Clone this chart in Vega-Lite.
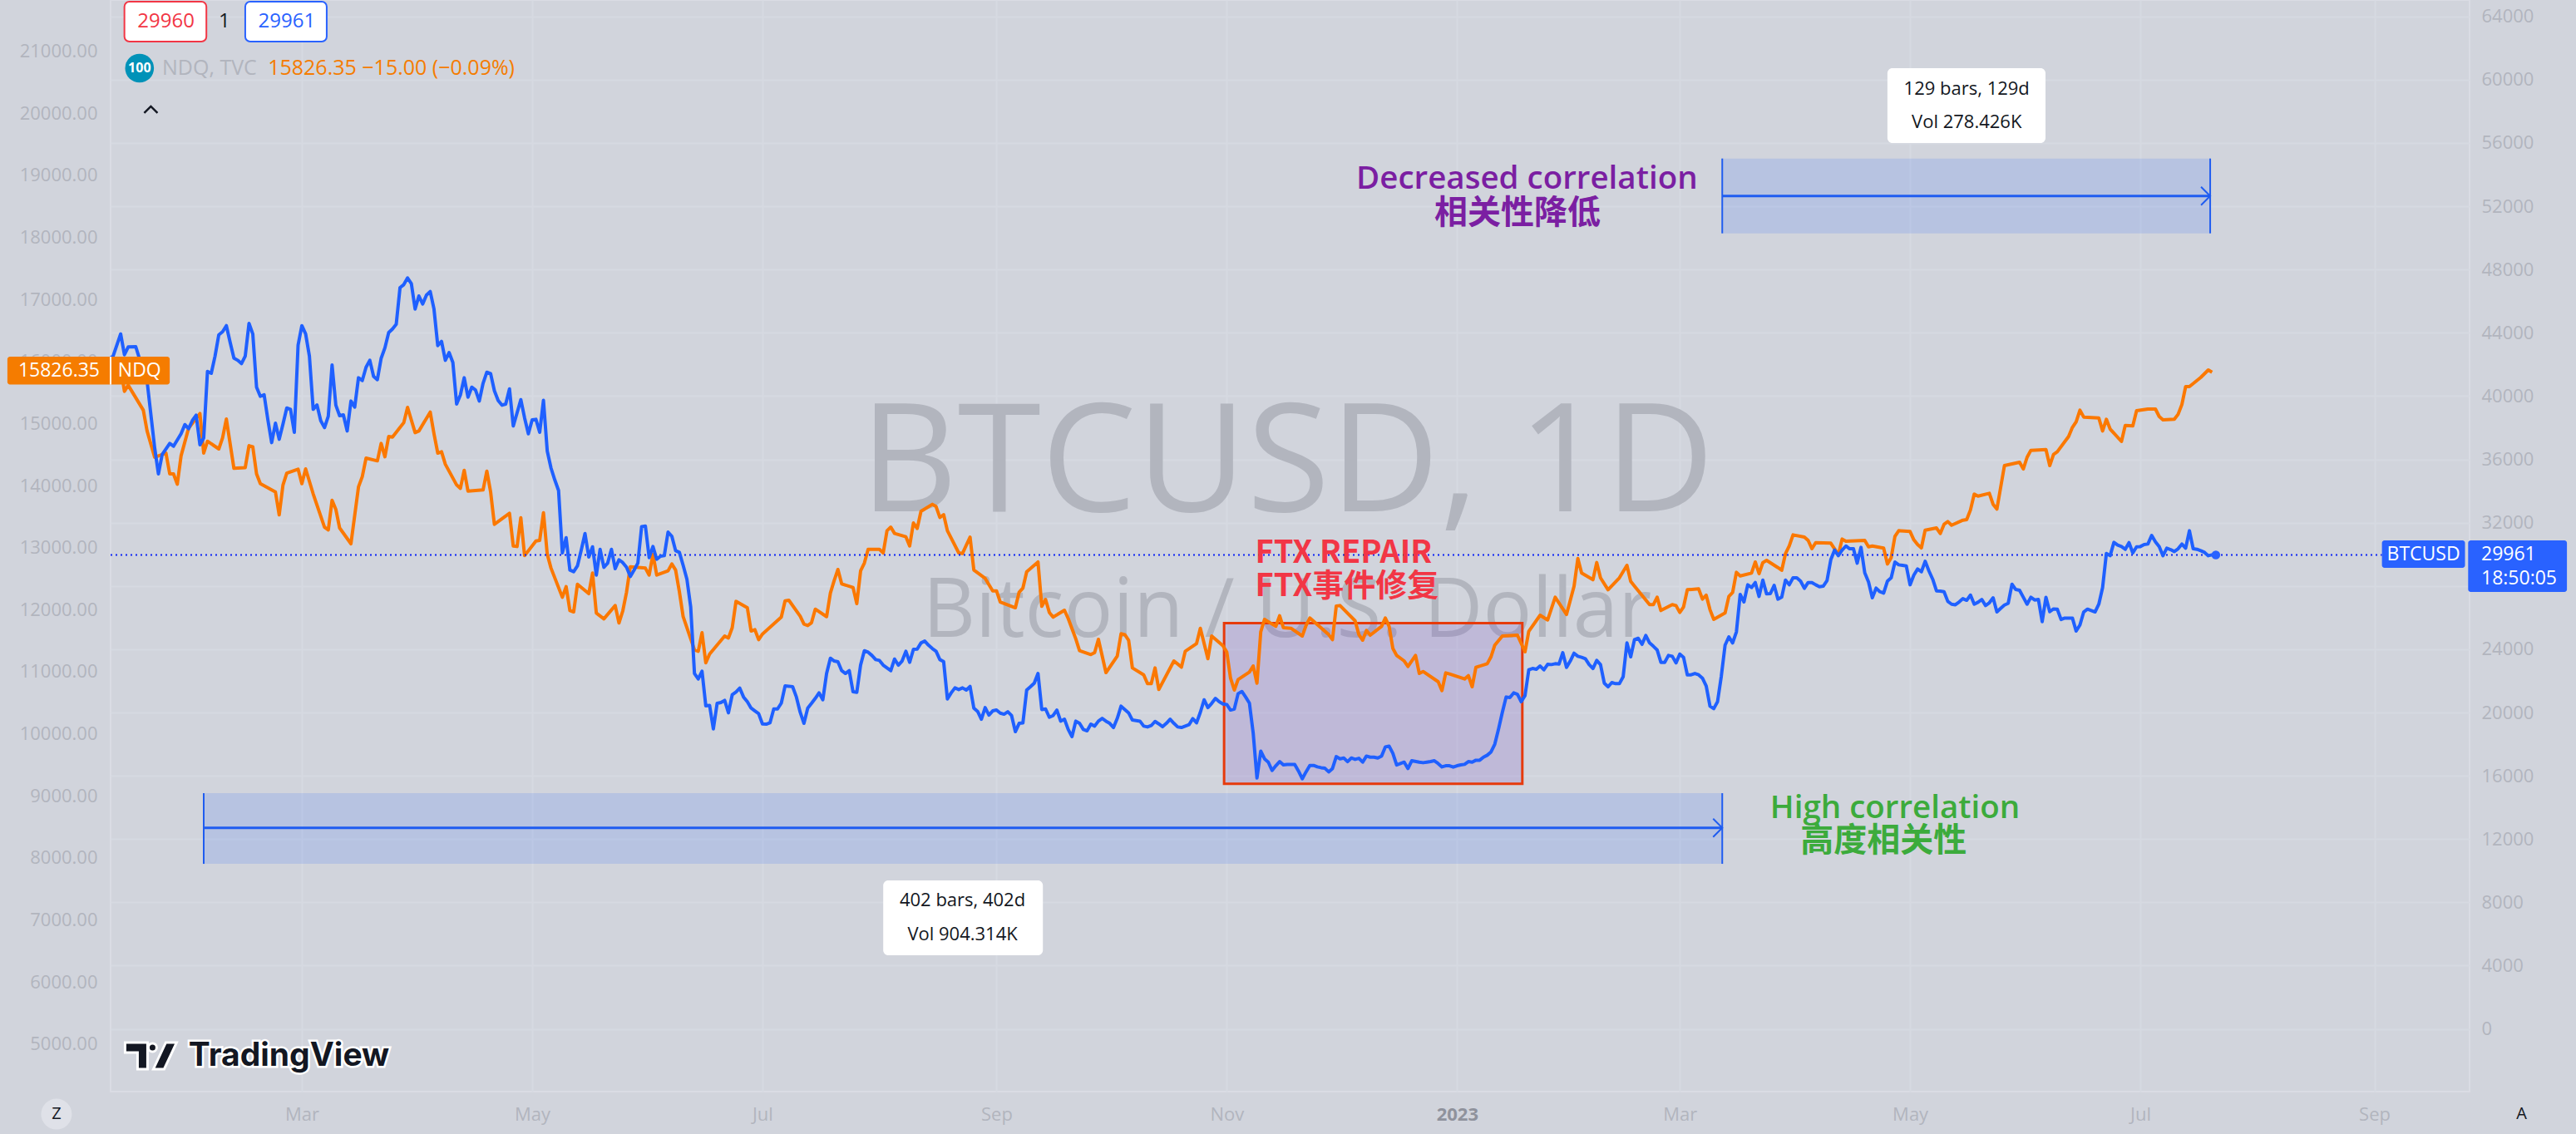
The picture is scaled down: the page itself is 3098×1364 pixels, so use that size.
{
"$schema":"https://vega.github.io/schema/vega-lite/v6.json",
"width":2837,"height":1313,
"autosize":{"type":"none"},
"padding":{"left":133,"top":0,"right":128,"bottom":51},
"background":"#d1d4dc",
"config":{"view":{"stroke":"#dadce4","strokeWidth":2},"axis":{"labelFont":"Open Sans","labelFontSize":22,"labelColor":"#b2b5be","domain":false,"ticks":false,"title":null,"labelOverlap":false,"labelBound":false,"labelFlush":false,"gridColor":"#d6d9e1","gridWidth":2},"text":{"font":"Open Sans"}},
"datasets":{
"btc":[
{"date":"2022-01-09","price":42351},{"date":"2022-01-10","price":42526},{"date":"2022-01-12","price":43927},{"date":"2022-01-13","price":42613},{"date":"2022-01-14","price":43104},{"date":"2022-01-16","price":43121},{"date":"2022-01-17","price":42351},{"date":"2022-01-19","price":40949},{"date":"2022-01-21","price":36744},{"date":"2022-01-22","price":35080},{"date":"2022-01-23","price":36306},{"date":"2022-01-25","price":37007},{"date":"2022-01-26","price":36832},{"date":"2022-01-28","price":37620},{"date":"2022-01-29","price":38198},{"date":"2022-01-30","price":37936},{"date":"2022-01-31","price":38461},{"date":"2022-02-01","price":38794},{"date":"2022-02-02","price":36919},{"date":"2022-02-03","price":37357},{"date":"2022-02-04","price":41562},{"date":"2022-02-05","price":41440},{"date":"2022-02-06","price":42526},{"date":"2022-02-07","price":43875},{"date":"2022-02-08","price":44068},{"date":"2022-02-09","price":44453},{"date":"2022-02-10","price":43402},{"date":"2022-02-11","price":42403},{"date":"2022-02-12","price":42263},{"date":"2022-02-13","price":42053},{"date":"2022-02-14","price":42526},{"date":"2022-02-15","price":44593},{"date":"2022-02-16","price":43927},{"date":"2022-02-17","price":40563},{"date":"2022-02-18","price":39985},{"date":"2022-02-19","price":40090},{"date":"2022-02-20","price":38496},{"date":"2022-02-21","price":37060},{"date":"2022-02-22","price":38286},{"date":"2022-02-23","price":37270},{"date":"2022-02-24","price":38233},{"date":"2022-02-25","price":39250},{"date":"2022-02-26","price":39162},{"date":"2022-02-27","price":37708},{"date":"2022-02-28","price":43227},
{"date":"2022-03-01","price":44453},{"date":"2022-03-02","price":43927},{"date":"2022-03-03","price":42526},{"date":"2022-03-04","price":39162},{"date":"2022-03-05","price":39442},{"date":"2022-03-06","price":38444},{"date":"2022-03-07","price":38006},{"date":"2022-03-08","price":38724},{"date":"2022-03-09","price":41965},{"date":"2022-03-10","price":39425},{"date":"2022-03-11","price":38759},{"date":"2022-03-12","price":38811},{"date":"2022-03-13","price":37795},{"date":"2022-03-14","price":39687},{"date":"2022-03-15","price":39302},{"date":"2022-03-16","price":41159},{"date":"2022-03-17","price":40984},{"date":"2022-03-18","price":41825},{"date":"2022-03-19","price":42263},{"date":"2022-03-20","price":41247},{"date":"2022-03-21","price":41037},{"date":"2022-03-22","price":42386},{"date":"2022-03-23","price":43051},{"date":"2022-03-24","price":44015},{"date":"2022-03-25","price":44243},{"date":"2022-03-26","price":44541},{"date":"2022-03-27","price":46853},{"date":"2022-03-28","price":47046},{"date":"2022-03-29","price":47466},{"date":"2022-03-30","price":47116},{"date":"2022-03-31","price":45504},
{"date":"2022-04-01","price":46328},{"date":"2022-04-02","price":45820},{"date":"2022-04-03","price":46380},{"date":"2022-04-04","price":46608},{"date":"2022-04-05","price":45504},{"date":"2022-04-06","price":43192},{"date":"2022-04-07","price":43454},{"date":"2022-04-08","price":42263},{"date":"2022-04-09","price":42754},{"date":"2022-04-10","price":42123},{"date":"2022-04-11","price":39495},{"date":"2022-04-12","price":40073},{"date":"2022-04-13","price":41159},{"date":"2022-04-14","price":39933},{"date":"2022-04-15","price":40563},{"date":"2022-04-16","price":40388},{"date":"2022-04-17","price":39687},{"date":"2022-04-18","price":40809},{"date":"2022-04-19","price":41510},{"date":"2022-04-20","price":41422},{"date":"2022-04-21","price":40336},{"date":"2022-04-22","price":39723},{"date":"2022-04-23","price":39425},{"date":"2022-04-24","price":39495},{"date":"2022-04-25","price":40458},{"date":"2022-04-26","price":38111},{"date":"2022-04-27","price":38934},{"date":"2022-04-28","price":39775},{"date":"2022-04-29","price":38619},{"date":"2022-04-30","price":37620},
{"date":"2022-05-01","price":38496},{"date":"2022-05-02","price":38531},{"date":"2022-05-03","price":37708},{"date":"2022-05-04","price":39728},{"date":"2022-05-05","price":36528},{"date":"2022-05-06","price":35450},{"date":"2022-05-07","price":34700},{"date":"2022-05-08","price":34031},{"date":"2022-05-09","price":30089},{"date":"2022-05-10","price":31053},{"date":"2022-05-11","price":29003},{"date":"2022-05-12","price":28898},{"date":"2022-05-13","price":29265},{"date":"2022-05-14","price":30264},{"date":"2022-05-15","price":31315},{"date":"2022-05-16","price":29826},{"date":"2022-05-17","price":30474},{"date":"2022-05-18","price":28687},{"date":"2022-05-19","price":30317},{"date":"2022-05-20","price":29178},{"date":"2022-05-21","price":29441},{"date":"2022-05-22","price":30317},{"date":"2022-05-23","price":29090},{"date":"2022-05-24","price":29651},{"date":"2022-05-25","price":29476},{"date":"2022-05-26","price":29178},{"date":"2022-05-27","price":28600},{"date":"2022-05-28","price":29003},{"date":"2022-05-29","price":29441},{"date":"2022-05-30","price":31753},{"date":"2022-05-31","price":31788},
{"date":"2022-06-01","price":29791},{"date":"2022-06-02","price":30492},{"date":"2022-06-03","price":29686},{"date":"2022-06-04","price":29879},{"date":"2022-06-05","price":29914},{"date":"2022-06-06","price":31403},{"date":"2022-06-07","price":31140},{"date":"2022-06-08","price":30229},{"date":"2022-06-09","price":30124},{"date":"2022-06-10","price":29301},{"date":"2022-06-11","price":28425},{"date":"2022-06-12","price":26673},{"date":"2022-06-13","price":22468},{"date":"2022-06-14","price":22117},{"date":"2022-06-15","price":22608},{"date":"2022-06-16","price":20418},{"date":"2022-06-17","price":20453},{"date":"2022-06-18","price":18964},{"date":"2022-06-19","price":20575},{"date":"2022-06-20","price":20628},{"date":"2022-06-21","price":20768},{"date":"2022-06-22","price":19980},{"date":"2022-06-23","price":21119},{"date":"2022-06-24","price":21294},{"date":"2022-06-25","price":21539},{"date":"2022-06-26","price":20978},{"date":"2022-06-27","price":20681},{"date":"2022-06-28","price":20278},{"date":"2022-06-29","price":20103},{"date":"2022-06-30","price":19928},
{"date":"2022-07-01","price":19279},{"date":"2022-07-02","price":19262},{"date":"2022-07-03","price":19349},{"date":"2022-07-04","price":20225},{"date":"2022-07-05","price":20225},{"date":"2022-07-06","price":20593},{"date":"2022-07-07","price":21679},{"date":"2022-07-08","price":21662},{"date":"2022-07-09","price":21627},{"date":"2022-07-10","price":20978},{"date":"2022-07-11","price":20015},{"date":"2022-07-12","price":19314},{"date":"2022-07-13","price":20278},{"date":"2022-07-14","price":20576},{"date":"2022-07-15","price":20891},{"date":"2022-07-16","price":21241},{"date":"2022-07-17","price":20803},{"date":"2022-07-18","price":22468},{"date":"2022-07-19","price":23431},{"date":"2022-07-20","price":23256},{"date":"2022-07-21","price":23203},{"date":"2022-07-22","price":22643},{"date":"2022-07-23","price":22468},{"date":"2022-07-24","price":22643},{"date":"2022-07-25","price":21311},{"date":"2022-07-26","price":21276},{"date":"2022-07-27","price":22993},{"date":"2022-07-28","price":23904},{"date":"2022-07-29","price":23817},{"date":"2022-07-30","price":23607},{"date":"2022-07-31","price":23344},
{"date":"2022-08-01","price":23291},{"date":"2022-08-02","price":22993},{"date":"2022-08-03","price":22818},{"date":"2022-08-04","price":22643},{"date":"2022-08-05","price":23379},{"date":"2022-08-06","price":22993},{"date":"2022-08-07","price":23256},{"date":"2022-08-08","price":23869},{"date":"2022-08-09","price":23168},{"date":"2022-08-10","price":23992},{"date":"2022-08-11","price":24010},{"date":"2022-08-12","price":24395},{"date":"2022-08-13","price":24517},{"date":"2022-08-14","price":24254},{"date":"2022-08-15","price":24045},{"date":"2022-08-16","price":23869},{"date":"2022-08-17","price":23344},{"date":"2022-08-18","price":23221},{"date":"2022-08-19","price":20856},{"date":"2022-08-20","price":21241},{"date":"2022-08-21","price":21557},{"date":"2022-08-22","price":21452},{"date":"2022-08-23","price":21557},{"date":"2022-08-24","price":21417},{"date":"2022-08-25","price":21645},{"date":"2022-08-26","price":20278},{"date":"2022-08-27","price":20067},{"date":"2022-08-28","price":19577},{"date":"2022-08-29","price":20313},{"date":"2022-08-30","price":19840},{"date":"2022-08-31","price":20103},
{"date":"2022-09-01","price":20155},{"date":"2022-09-02","price":19962},{"date":"2022-09-03","price":19892},{"date":"2022-09-04","price":20050},{"date":"2022-09-05","price":19805},{"date":"2022-09-06","price":18789},{"date":"2022-09-07","price":19314},{"date":"2022-09-08","price":19349},{"date":"2022-09-09","price":21417},{"date":"2022-09-10","price":21627},{"date":"2022-09-11","price":21855},{"date":"2022-09-12","price":22468},{"date":"2022-09-13","price":20190},{"date":"2022-09-14","price":20225},{"date":"2022-09-15","price":19700},{"date":"2022-09-16","price":19805},{"date":"2022-09-17","price":20155},{"date":"2022-09-18","price":19454},{"date":"2022-09-19","price":19577},{"date":"2022-09-20","price":18929},{"date":"2022-09-21","price":18473},{"date":"2022-09-22","price":19454},{"date":"2022-09-23","price":19314},{"date":"2022-09-24","price":18929},{"date":"2022-09-25","price":18841},{"date":"2022-09-26","price":19261},{"date":"2022-09-27","price":19139},{"date":"2022-09-28","price":19454},{"date":"2022-09-29","price":19629},{"date":"2022-09-30","price":19454},
{"date":"2022-10-01","price":19314},{"date":"2022-10-02","price":19051},{"date":"2022-10-03","price":19629},{"date":"2022-10-04","price":20401},{"date":"2022-10-05","price":20190},{"date":"2022-10-06","price":19980},{"date":"2022-10-07","price":19524},{"date":"2022-10-08","price":19489},{"date":"2022-10-09","price":19454},{"date":"2022-10-10","price":19139},{"date":"2022-10-11","price":19087},{"date":"2022-10-12","price":19174},{"date":"2022-10-13","price":19437},{"date":"2022-10-14","price":19279},{"date":"2022-10-15","price":19104},{"date":"2022-10-16","price":19314},{"date":"2022-10-17","price":19577},{"date":"2022-10-18","price":19314},{"date":"2022-10-19","price":19087},{"date":"2022-10-20","price":19051},{"date":"2022-10-21","price":19139},{"date":"2022-10-22","price":19226},{"date":"2022-10-23","price":19612},{"date":"2022-10-24","price":19349},{"date":"2022-10-25","price":20015},{"date":"2022-10-26","price":20803},{"date":"2022-10-27","price":20313},{"date":"2022-10-28","price":20576},{"date":"2022-10-29","price":20891},{"date":"2022-10-30","price":20681},{"date":"2022-10-31","price":20541},
{"date":"2022-11-01","price":20506},{"date":"2022-11-02","price":20155},{"date":"2022-11-03","price":20225},{"date":"2022-11-04","price":21189},{"date":"2022-11-05","price":21329},{"date":"2022-11-06","price":20978},{"date":"2022-11-07","price":20593},{"date":"2022-11-08","price":18701},{"date":"2022-11-09","price":15863},{"date":"2022-11-10","price":17562},{"date":"2022-11-11","price":17072},{"date":"2022-11-12","price":16862},{"date":"2022-11-13","price":16336},{"date":"2022-11-14","price":16634},{"date":"2022-11-15","price":16896},{"date":"2022-11-16","price":16686},{"date":"2022-11-17","price":16721},{"date":"2022-11-18","price":16721},{"date":"2022-11-19","price":16721},{"date":"2022-11-20","price":16301},{"date":"2022-11-21","price":15810},{"date":"2022-11-22","price":16248},{"date":"2022-11-23","price":16651},{"date":"2022-11-24","price":16651},{"date":"2022-11-25","price":16564},{"date":"2022-11-26","price":16511},{"date":"2022-11-27","price":16476},{"date":"2022-11-28","price":16248},{"date":"2022-11-29","price":16459},{"date":"2022-11-30","price":17212},
{"date":"2022-12-01","price":17072},{"date":"2022-12-02","price":17124},{"date":"2022-12-03","price":16896},{"date":"2022-12-04","price":17124},{"date":"2022-12-05","price":17036},{"date":"2022-12-06","price":17107},{"date":"2022-12-07","price":16862},{"date":"2022-12-08","price":17247},{"date":"2022-12-09","price":17177},{"date":"2022-12-10","price":17177},{"date":"2022-12-11","price":17124},{"date":"2022-12-12","price":17247},{"date":"2022-12-13","price":17825},{"date":"2022-12-14","price":17878},{"date":"2022-12-15","price":17422},{"date":"2022-12-16","price":16686},{"date":"2022-12-17","price":16774},{"date":"2022-12-18","price":16862},{"date":"2022-12-19","price":16459},{"date":"2022-12-20","price":16950},{"date":"2022-12-22","price":16862},{"date":"2022-12-23","price":16828},{"date":"2022-12-24","price":16862},{"date":"2022-12-25","price":16897},{"date":"2022-12-26","price":16950},{"date":"2022-12-27","price":16775},{"date":"2022-12-28","price":16564},{"date":"2022-12-29","price":16635},{"date":"2022-12-30","price":16635},{"date":"2022-12-31","price":16547},
{"date":"2023-01-01","price":16635},{"date":"2023-01-02","price":16687},{"date":"2023-01-03","price":16722},{"date":"2023-01-04","price":16897},{"date":"2023-01-05","price":16862},{"date":"2023-01-06","price":16985},{"date":"2023-01-07","price":16985},{"date":"2023-01-08","price":17178},{"date":"2023-01-09","price":17301},{"date":"2023-01-10","price":17511},{"date":"2023-01-11","price":18001},{"date":"2023-01-12","price":18965},{"date":"2023-01-13","price":20016},{"date":"2023-01-14","price":20980},{"date":"2023-01-15","price":20945},{"date":"2023-01-16","price":21242},{"date":"2023-01-17","price":21155},{"date":"2023-01-18","price":20682},{"date":"2023-01-19","price":21067},{"date":"2023-01-20","price":22697},{"date":"2023-01-21","price":22784},{"date":"2023-01-22","price":22732},{"date":"2023-01-23","price":22942},{"date":"2023-01-24","price":22697},{"date":"2023-01-25","price":23047},{"date":"2023-01-26","price":23029},{"date":"2023-01-27","price":23082},{"date":"2023-01-28","price":23060},{"date":"2023-01-29","price":23783},{"date":"2023-01-30","price":22854},{"date":"2023-01-31","price":23257},
{"date":"2023-02-01","price":23748},{"date":"2023-02-02","price":23555},{"date":"2023-02-03","price":23485},{"date":"2023-02-04","price":23397},{"date":"2023-02-05","price":23029},{"date":"2023-02-06","price":22784},{"date":"2023-02-07","price":23292},{"date":"2023-02-08","price":23029},{"date":"2023-02-09","price":21856},{"date":"2023-02-10","price":21628},{"date":"2023-02-11","price":21891},{"date":"2023-02-12","price":21821},{"date":"2023-02-13","price":21821},{"date":"2023-02-14","price":22258},{"date":"2023-02-15","price":24396},{"date":"2023-02-16","price":23520},{"date":"2023-02-17","price":24606},{"date":"2023-02-18","price":24694},{"date":"2023-02-19","price":24308},{"date":"2023-02-20","price":24869},{"date":"2023-02-21","price":24396},{"date":"2023-02-22","price":24186},{"date":"2023-02-23","price":23958},{"date":"2023-02-24","price":23170},{"date":"2023-02-25","price":23170},{"date":"2023-02-26","price":23608},{"date":"2023-02-27","price":23555},{"date":"2023-02-28","price":23135},
{"date":"2023-03-01","price":23695},{"date":"2023-03-02","price":23485},{"date":"2023-03-03","price":22381},{"date":"2023-03-04","price":22381},{"date":"2023-03-05","price":22469},{"date":"2023-03-06","price":22381},{"date":"2023-03-07","price":22171},{"date":"2023-03-08","price":21680},{"date":"2023-03-09","price":20401},{"date":"2023-03-10","price":20244},{"date":"2023-03-11","price":20682},{"date":"2023-03-12","price":22294},{"date":"2023-03-13","price":24256},{"date":"2023-03-14","price":24781},{"date":"2023-03-15","price":24396},{"date":"2023-03-16","price":25097},{"date":"2023-03-17","price":27462},{"date":"2023-03-18","price":26989},{"date":"2023-03-19","price":28075},{"date":"2023-03-20","price":27900},{"date":"2023-03-21","price":28215},{"date":"2023-03-22","price":27339},{"date":"2023-03-23","price":28373},{"date":"2023-03-24","price":27497},{"date":"2023-03-25","price":27515},{"date":"2023-03-26","price":28040},{"date":"2023-03-27","price":27164},{"date":"2023-03-28","price":27287},{"date":"2023-03-29","price":28373},{"date":"2023-03-30","price":28075},{"date":"2023-03-31","price":28513},
{"date":"2023-04-01","price":28513},{"date":"2023-04-02","price":28303},{"date":"2023-04-03","price":27847},{"date":"2023-04-04","price":28215},{"date":"2023-04-05","price":28215},{"date":"2023-04-06","price":28075},{"date":"2023-04-07","price":27953},{"date":"2023-04-08","price":27988},{"date":"2023-04-09","price":28338},{"date":"2023-04-10","price":29652},{"date":"2023-04-11","price":30265},{"date":"2023-04-12","price":29912},{"date":"2023-04-13","price":30263},{"date":"2023-04-14","price":30525},{"date":"2023-04-15","price":30350},{"date":"2023-04-16","price":30350},{"date":"2023-04-17","price":29439},{"date":"2023-04-18","price":30438},{"date":"2023-04-19","price":28826},{"date":"2023-04-20","price":28248},{"date":"2023-04-21","price":27249},{"date":"2023-04-22","price":27862},{"date":"2023-04-23","price":27635},{"date":"2023-04-24","price":27547},{"date":"2023-04-25","price":28301},{"date":"2023-04-26","price":28511},{"date":"2023-04-27","price":29509},{"date":"2023-04-28","price":29334},{"date":"2023-04-29","price":29299},{"date":"2023-04-30","price":29264},
{"date":"2023-05-01","price":28072},{"date":"2023-05-02","price":28686},{"date":"2023-05-03","price":29071},{"date":"2023-05-04","price":28896},{"date":"2023-05-05","price":29562},{"date":"2023-05-06","price":28948},{"date":"2023-05-07","price":28423},{"date":"2023-05-08","price":27687},{"date":"2023-05-09","price":27670},{"date":"2023-05-10","price":27635},{"date":"2023-05-11","price":27022},{"date":"2023-05-12","price":26846},{"date":"2023-05-13","price":26811},{"date":"2023-05-14","price":26987},{"date":"2023-05-15","price":27196},{"date":"2023-05-16","price":27092},{"date":"2023-05-17","price":27424},{"date":"2023-05-18","price":26846},{"date":"2023-05-19","price":26969},{"date":"2023-05-20","price":27144},{"date":"2023-05-21","price":26758},{"date":"2023-05-22","price":26934},{"date":"2023-05-23","price":27249},{"date":"2023-05-24","price":26356},{"date":"2023-05-25","price":26583},{"date":"2023-05-26","price":26794},{"date":"2023-05-27","price":26899},{"date":"2023-05-28","price":28108},{"date":"2023-05-29","price":27775},{"date":"2023-05-30","price":27722},{"date":"2023-05-31","price":27284},
{"date":"2023-06-01","price":26846},{"date":"2023-06-02","price":27284},{"date":"2023-06-03","price":27109},{"date":"2023-06-04","price":27144},{"date":"2023-06-05","price":25742},{"date":"2023-06-06","price":27284},{"date":"2023-06-07","price":26373},{"date":"2023-06-08","price":26548},{"date":"2023-06-09","price":26531},{"date":"2023-06-10","price":25882},{"date":"2023-06-11","price":25970},{"date":"2023-06-12","price":25970},{"date":"2023-06-13","price":25970},{"date":"2023-06-14","price":25147},{"date":"2023-06-15","price":25532},{"date":"2023-06-16","price":26356},{"date":"2023-06-17","price":26531},{"date":"2023-06-18","price":26443},{"date":"2023-06-19","price":26356},{"date":"2023-06-20","price":26846},{"date":"2023-06-21","price":27898},{"date":"2023-06-22","price":30052},{"date":"2023-06-23","price":29912},{"date":"2023-06-24","price":30753},{"date":"2023-06-25","price":30578},{"date":"2023-06-26","price":30490},{"date":"2023-06-27","price":30315},{"date":"2023-06-28","price":30736},{"date":"2023-06-29","price":30088},{"date":"2023-06-30","price":30473},
{"date":"2023-07-01","price":30490},{"date":"2023-07-02","price":30613},{"date":"2023-07-03","price":30648},{"date":"2023-07-04","price":31191},{"date":"2023-07-05","price":30788},{"date":"2023-07-06","price":30490},{"date":"2023-07-07","price":29912},{"date":"2023-07-08","price":30385},{"date":"2023-07-09","price":30298},{"date":"2023-07-10","price":30175},{"date":"2023-07-11","price":30350},{"date":"2023-07-12","price":30648},{"date":"2023-07-13","price":30385},{"date":"2023-07-14","price":31489},{"date":"2023-07-15","price":30350},{"date":"2023-07-16","price":30315},{"date":"2023-07-17","price":30228},{"date":"2023-07-18","price":30122},{"date":"2023-07-19","price":29912},{"date":"2023-07-20","price":29965},{"date":"2023-07-21","price":29961}
],
"ndq":[
{"date":"2022-01-10","price":15700},{"date":"2022-01-12","price":15900},{"date":"2022-01-13","price":15519},{"date":"2022-01-14","price":15617},{"date":"2022-01-18","price":15215},{"date":"2022-01-19","price":14880},{"date":"2022-01-21","price":14456},{"date":"2022-01-22","price":14478},{"date":"2022-01-24","price":14523},{"date":"2022-01-25","price":14188},{"date":"2022-01-26","price":14188},{"date":"2022-01-27","price":14022},{"date":"2022-01-28","price":14478},{"date":"2022-01-30","price":14925},{"date":"2022-02-02","price":15161},{"date":"2022-02-03","price":14523},{"date":"2022-02-04","price":14715},{"date":"2022-02-07","price":14590},{"date":"2022-02-08","price":14768},{"date":"2022-02-09","price":15072},{"date":"2022-02-11","price":14277},{"date":"2022-02-14","price":14290},{"date":"2022-02-15","price":14643},{"date":"2022-02-16","price":14625},{"date":"2022-02-17","price":14188},{"date":"2022-02-18","price":14031},{"date":"2022-02-22","price":13897},{"date":"2022-02-23","price":13527},{"date":"2022-02-24","price":14009},{"date":"2022-02-25","price":14201},{"date":"2022-02-28","price":14264},{"date":"2022-03-01","price":14031},{"date":"2022-03-02","price":14268},{"date":"2022-03-04","price":13866},{"date":"2022-03-07","price":13330},{"date":"2022-03-08","price":13285},{"date":"2022-03-09","price":13763},{"date":"2022-03-10","price":13616},{"date":"2022-03-11","price":13317},{"date":"2022-03-14","price":13062},{"date":"2022-03-16","price":13978},{"date":"2022-03-17","price":14143},{"date":"2022-03-18","price":14442},{"date":"2022-03-21","price":14398},{"date":"2022-03-22","price":14679},{"date":"2022-03-23","price":14465},{"date":"2022-03-24","price":14791},{"date":"2022-03-25","price":14782},{"date":"2022-03-28","price":15014},{"date":"2022-03-29","price":15260},{"date":"2022-03-31","price":14853},{"date":"2022-04-01","price":14880},{"date":"2022-04-04","price":15184},{"date":"2022-04-05","price":14835},{"date":"2022-04-06","price":14523},{"date":"2022-04-07","price":14545},{"date":"2022-04-08","price":14344},{"date":"2022-04-11","price":14009},{"date":"2022-04-12","price":13955},{"date":"2022-04-13","price":14246},{"date":"2022-04-14","price":13911},{"date":"2022-04-18","price":13929},{"date":"2022-04-19","price":14232},{"date":"2022-04-20","price":13897},{"date":"2022-04-21","price":13375},{"date":"2022-04-25","price":13553},{"date":"2022-04-26","price":13026},{"date":"2022-04-27","price":13017},{"date":"2022-04-28","price":13482},{"date":"2022-04-29","price":12870},{"date":"2022-05-02","price":13107},{"date":"2022-05-03","price":13116},
{"date":"2022-05-04","price":13563},{"date":"2022-05-05","price":12893},{"date":"2022-05-06","price":12669},{"date":"2022-05-09","price":12200},{"date":"2022-05-10","price":12370},{"date":"2022-05-11","price":11986},{"date":"2022-05-12","price":11963},{"date":"2022-05-13","price":12410},{"date":"2022-05-16","price":12258},{"date":"2022-05-17","price":12589},{"date":"2022-05-18","price":11946},{"date":"2022-05-20","price":11852},{"date":"2022-05-23","price":12066},{"date":"2022-05-24","price":11785},{"date":"2022-05-25","price":11977},{"date":"2022-05-26","price":12281},{"date":"2022-05-27","price":12692},{"date":"2022-05-31","price":12669},{"date":"2022-06-01","price":12557},{"date":"2022-06-02","price":12893},{"date":"2022-06-03","price":12557},{"date":"2022-06-06","price":12625},{"date":"2022-06-07","price":12736},{"date":"2022-06-08","price":12638},{"date":"2022-06-09","price":12290},{"date":"2022-06-10","price":11887},{"date":"2022-06-13","price":11351},{"date":"2022-06-14","price":11329},{"date":"2022-06-15","price":11628},{"date":"2022-06-16","price":11142},{"date":"2022-06-17","price":11284},{"date":"2022-06-21","price":11575},{"date":"2022-06-22","price":11543},{"date":"2022-06-23","price":11709},{"date":"2022-06-24","price":12133},{"date":"2022-06-27","price":12030},{"date":"2022-06-28","price":11655},{"date":"2022-06-29","price":11677},{"date":"2022-06-30","price":11517},{"date":"2022-07-01","price":11606},{"date":"2022-07-06","price":11879},{"date":"2022-07-07","price":12142},{"date":"2022-07-08","price":12151},{"date":"2022-07-11","price":11896},{"date":"2022-07-12","price":11767},{"date":"2022-07-13","price":11744},{"date":"2022-07-14","price":11789},{"date":"2022-07-15","price":12008},{"date":"2022-07-18","price":11887},{"date":"2022-07-19","price":12267},{"date":"2022-07-20","price":12468},{"date":"2022-07-21","price":12647},{"date":"2022-07-22","price":12415},{"date":"2022-07-25","price":12357},{"date":"2022-07-26","price":12097},{"date":"2022-07-27","price":12625},{"date":"2022-07-28","price":12750},{"date":"2022-07-29","price":12973},{"date":"2022-08-01","price":12973},{"date":"2022-08-02","price":12915},{"date":"2022-08-03","price":13272},{"date":"2022-08-04","price":13330},{"date":"2022-08-05","price":13228},{"date":"2022-08-08","price":13174},{"date":"2022-08-09","price":13027},{"date":"2022-08-10","price":13397},{"date":"2022-08-11","price":13308},{"date":"2022-08-12","price":13585},{"date":"2022-08-15","price":13697},{"date":"2022-08-16","price":13661},{"date":"2022-08-17","price":13487},{"date":"2022-08-18","price":13531},{"date":"2022-08-19","price":13272},{"date":"2022-08-22","price":12915},{"date":"2022-08-23","price":12906},{"date":"2022-08-25","price":13170},{"date":"2022-08-26","price":12640},
{"date":"2022-08-29","price":12504},{"date":"2022-08-31","price":12303},{"date":"2022-09-01","price":12303},{"date":"2022-09-02","price":12124},{"date":"2022-09-06","price":12030},{"date":"2022-09-07","price":12281},{"date":"2022-09-08","price":12348},{"date":"2022-09-09","price":12611},{"date":"2022-09-12","price":12768},{"date":"2022-09-13","price":12053},{"date":"2022-09-14","price":12164},{"date":"2022-09-15","price":11955},{"date":"2022-09-16","price":11879},{"date":"2022-09-19","price":11990},{"date":"2022-09-20","price":11856},{"date":"2022-09-22","price":11530},{"date":"2022-09-23","price":11338},{"date":"2022-09-26","price":11276},{"date":"2022-09-27","price":11307},{"date":"2022-09-28","price":11521},{"date":"2022-09-30","price":10985},{"date":"2022-10-03","price":11253},{"date":"2022-10-04","price":11611},{"date":"2022-10-05","price":11597},{"date":"2022-10-06","price":11508},{"date":"2022-10-07","price":11061},{"date":"2022-10-10","price":10949},{"date":"2022-10-11","price":10807},{"date":"2022-10-12","price":10807},{"date":"2022-10-13","price":11061},{"date":"2022-10-14","price":10713},{"date":"2022-10-18","price":11173},{"date":"2022-10-20","price":11074},{"date":"2022-10-21","price":11329},{"date":"2022-10-24","price":11454},{"date":"2022-10-25","price":11700},{"date":"2022-10-27","price":11209},{"date":"2022-10-28","price":11575},{"date":"2022-10-31","price":11418},{"date":"2022-11-01","price":11316},{"date":"2022-11-02","price":10896},{"date":"2022-11-03","price":10704},{"date":"2022-11-04","price":10873},{"date":"2022-11-07","price":10994},{"date":"2022-11-08","price":11092},{"date":"2022-11-09","price":10815},{"date":"2022-11-10","price":11642},{"date":"2022-11-11","price":11843},{"date":"2022-11-14","price":11731},{"date":"2022-11-15","price":11901},{"date":"2022-11-16","price":11709},{"date":"2022-11-18","price":11700},{"date":"2022-11-21","price":11575},{"date":"2022-11-22","price":11745},{"date":"2022-11-23","price":11865},{"date":"2022-11-28","price":11597},{"date":"2022-11-29","price":11517},{"date":"2022-11-30","price":12057},{"date":"2022-12-01","price":12066},{"date":"2022-12-05","price":11820},{"date":"2022-12-06","price":11597},{"date":"2022-12-07","price":11508},{"date":"2022-12-08","price":11664},{"date":"2022-12-09","price":11588},{"date":"2022-12-12","price":11731},{"date":"2022-12-13","price":11865},{"date":"2022-12-14","price":11731},{"date":"2022-12-15","price":11374},{"date":"2022-12-16","price":11262},
{"date":"2022-12-18","price":11173},{"date":"2022-12-19","price":11083},{"date":"2022-12-21","price":11262},{"date":"2022-12-22","price":10972},{"date":"2022-12-23","price":11003},{"date":"2022-12-27","price":10838},{"date":"2022-12-28","price":10695},{"date":"2022-12-29","price":10981},{"date":"2022-12-30","price":10963},{"date":"2023-01-03","price":10882},{"date":"2023-01-04","price":10936},{"date":"2023-01-05","price":10757},{"date":"2023-01-06","price":11070},{"date":"2023-01-09","price":11128},{"date":"2023-01-10","price":11240},{"date":"2023-01-11","price":11428},{"date":"2023-01-13","price":11575},{"date":"2023-01-17","price":11588},{"date":"2023-01-19","price":11320},{"date":"2023-01-20","price":11651},{"date":"2023-01-23","price":11910},{"date":"2023-01-25","price":11834},{"date":"2023-01-27","price":12200},{"date":"2023-01-30","price":11923},{"date":"2023-02-01","price":12379},{"date":"2023-02-02","price":12826},{"date":"2023-02-03","price":12589},{"date":"2023-02-06","price":12482},{"date":"2023-02-07","price":12759},{"date":"2023-02-08","price":12513},{"date":"2023-02-10","price":12321},{"date":"2023-02-13","price":12513},{"date":"2023-02-15","price":12714},{"date":"2023-02-16","price":12455},{"date":"2023-02-17","price":12379},{"date":"2023-02-21","price":12080},{"date":"2023-02-22","price":12080},{"date":"2023-02-23","price":12200},{"date":"2023-02-24","price":11986},{"date":"2023-02-27","price":12080},{"date":"2023-02-28","price":12066},{"date":"2023-03-01","price":11955},{"date":"2023-03-02","price":12044},{"date":"2023-03-03","price":12321},{"date":"2023-03-06","price":12334},{"date":"2023-03-07","price":12169},{"date":"2023-03-08","price":12232},{"date":"2023-03-09","price":11999},{"date":"2023-03-10","price":11843},{"date":"2023-03-13","price":11946},{"date":"2023-03-14","price":12214},{"date":"2023-03-15","price":12276},{"date":"2023-03-16","price":12602},{"date":"2023-03-17","price":12544},{"date":"2023-03-20","price":12589},{"date":"2023-03-21","price":12768},{"date":"2023-03-22","price":12580},{"date":"2023-03-23","price":12759},{"date":"2023-03-24","price":12794},{"date":"2023-03-27","price":12678},{"date":"2023-03-28","price":12634},{"date":"2023-03-29","price":12902},{"date":"2023-03-30","price":13027},{"date":"2023-03-31","price":13205},{"date":"2023-04-03","price":13170},{"date":"2023-04-04","price":13116},{"date":"2023-04-05","price":12982},{"date":"2023-04-06","price":13080},{"date":"2023-04-10","price":13071},{"date":"2023-04-11","price":12982},
{"date":"2023-04-12","price":12883},{"date":"2023-04-13","price":13138},{"date":"2023-04-14","price":13102},{"date":"2023-04-19","price":13116},{"date":"2023-04-20","price":13013},{"date":"2023-04-21","price":13026},{"date":"2023-04-24","price":12991},{"date":"2023-04-25","price":12736},{"date":"2023-04-26","price":12839},{"date":"2023-04-27","price":13183},{"date":"2023-04-28","price":13272},{"date":"2023-05-01","price":13259},{"date":"2023-05-02","price":13125},{"date":"2023-05-03","price":13049},{"date":"2023-05-04","price":12995},{"date":"2023-05-05","price":13281},{"date":"2023-05-08","price":13317},{"date":"2023-05-09","price":13227},{"date":"2023-05-10","price":13375},{"date":"2023-05-11","price":13420},{"date":"2023-05-12","price":13361},{"date":"2023-05-15","price":13442},{"date":"2023-05-16","price":13451},{"date":"2023-05-17","price":13607},{"date":"2023-05-18","price":13862},{"date":"2023-05-19","price":13830},{"date":"2023-05-22","price":13875},{"date":"2023-05-23","price":13696},{"date":"2023-05-24","price":13621},{"date":"2023-05-26","price":14322},{"date":"2023-05-30","price":14375},{"date":"2023-05-31","price":14268},{"date":"2023-06-01","price":14456},{"date":"2023-06-02","price":14568},{"date":"2023-06-06","price":14581},{"date":"2023-06-07","price":14322},{"date":"2023-06-08","price":14501},{"date":"2023-06-09","price":14545},{"date":"2023-06-12","price":14791},{"date":"2023-06-13","price":14938},{"date":"2023-06-14","price":15028},{"date":"2023-06-15","price":15215},{"date":"2023-06-16","price":15104},{"date":"2023-06-20","price":15090},{"date":"2023-06-21","price":14880},{"date":"2023-06-22","price":15068},{"date":"2023-06-23","price":14911},{"date":"2023-06-26","price":14711},{"date":"2023-06-27","price":14970},{"date":"2023-06-29","price":14961},{"date":"2023-06-30","price":15206},{"date":"2023-07-03","price":15233},{"date":"2023-07-05","price":15233},{"date":"2023-07-06","price":15113},{"date":"2023-07-07","price":15059},{"date":"2023-07-10","price":15068},{"date":"2023-07-11","price":15148},{"date":"2023-07-12","price":15305},{"date":"2023-07-13","price":15595},{"date":"2023-07-14","price":15595},{"date":"2023-07-17","price":15742},{"date":"2023-07-19","price":15863},{"date":"2023-07-20","price":15826.35}
],
"ranges":[
{"date":"2022-02-03","date2":"2023-03-12T06:00:00Z","price":7903,"price2":9042,"mid":8484},
{"date":"2023-03-12T06:00:00Z","date2":"2023-07-19T12:00:00Z","price":18065,"price2":19271,"mid":18668}
]
},
"resolve":{"scale":{"y":"independent"}},
"layer":[
{
"encoding":{
"x":{"field":"date","type":"temporal","scale":{"type":"utc","domain":["2022-01-09T08:00:00Z","2023-09-26T05:00:00Z"]},"axis":{"orient":"bottom","grid":true,"labelPadding":17,"values":["2022-03-01","2022-05-01","2022-07-01","2022-09-01","2022-11-01","2023-01-01","2023-03-01","2023-05-01","2023-07-01","2023-09-01"],"labelExpr":"utcyear(datum.value)==2023&&utcmonth(datum.value)==0?'2023':utcFormat(datum.value,'%b')","labelFontWeight":{"condition":{"test":"utcyear(datum.value)==2023&&utcmonth(datum.value)==0","value":"bold"},"value":"normal"},"labelColor":{"condition":{"test":"utcyear(datum.value)==2023&&utcmonth(datum.value)==0","value":"#8f929c"},"value":"#b2b5be"}}},
"y":{"field":"price","type":"quantitative","scale":{"domain":[4232,21826],"nice":false,"zero":false},"axis":{"orient":"left","grid":false,"labelPadding":16,"values":[5000,6000,7000,8000,9000,10000,11000,12000,13000,14000,15000,16000,17000,18000,19000,20000,21000],"format":".2f"}}
},
"layer":[
{"data":{"values":[{"date":"2022-11-17","price":14322,"label":"BTCUSD, 1D"}]},"mark":{"type":"text","fontSize":182,"color":"#b2b5be","align":"center","baseline":"middle","font":"Open Sans"},"encoding":{"text":{"field":"label"}}},
{"data":{"values":[{"date":"2022-11-17","price":11950,"label":"Bitcoin / U.S. Dollar"}]},"mark":{"type":"text","fontSize":98,"color":"#b2b5be","align":"center","baseline":"middle","font":"Open Sans"},"encoding":{"text":{"field":"label"}}},
{"data":{"name":"ranges"},"mark":{"type":"rect","fill":"#2962ff","opacity":0.15},"encoding":{"x2":{"field":"date2"},"y2":{"field":"price2"}}},
{"data":{"name":"ranges"},"mark":{"type":"rule","color":"#1f5cf0","strokeWidth":2},"encoding":{"y2":{"field":"price2"}}},
{"data":{"name":"ranges"},"mark":{"type":"rule","color":"#1f5cf0","strokeWidth":2},"encoding":{"x":{"field":"date2","type":"temporal"},"y2":{"field":"price2"}}},
{"data":{"name":"ranges"},"mark":{"type":"rule","color":"#1f5cf0","strokeWidth":3},"encoding":{"x2":{"field":"date2"},"y":{"field":"mid","type":"quantitative"}}},
{"data":{"name":"ranges"},"mark":{"type":"point","shape":"M-1,-1L0,0L-1,1","size":484,"filled":false,"color":"#1f5cf0","strokeWidth":2,"opacity":1},"encoding":{"x":{"field":"date2","type":"temporal"},"y":{"field":"mid","type":"quantitative"}}},
{"data":{"values":[{"date":"2022-10-31T07:00:00Z","date2":"2023-01-18T07:00:00Z","price":9194,"price2":11783}]},"mark":{"type":"rect","fill":"#7752c8","fillOpacity":0.2,"stroke":"#e63a0c","strokeWidth":3},"encoding":{"x2":{"field":"date2"},"y2":{"field":"price2"}}},
{"data":{"name":"ndq"},"mark":{"type":"line","color":"#fb7800","strokeWidth":4,"strokeJoin":"round"}}
]
},
{
"encoding":{
"x":{"field":"date","type":"temporal","scale":{"type":"utc","domain":["2022-01-09T08:00:00Z","2023-09-26T05:00:00Z"]},"axis":{"orient":"bottom","grid":true,"labelPadding":17,"values":["2022-03-01","2022-05-01","2022-07-01","2022-09-01","2022-11-01","2023-01-01","2023-03-01","2023-05-01","2023-07-01","2023-09-01"],"labelExpr":"utcyear(datum.value)==2023&&utcmonth(datum.value)==0?'2023':utcFormat(datum.value,'%b')","labelFontWeight":{"condition":{"test":"utcyear(datum.value)==2023&&utcmonth(datum.value)==0","value":"bold"},"value":"normal"},"labelColor":{"condition":{"test":"utcyear(datum.value)==2023&&utcmonth(datum.value)==0","value":"#8f929c"},"value":"#b2b5be"}}},
"y":{"field":"price","type":"quantitative","scale":{"domain":[-3962,65036],"nice":false,"zero":false},"axis":{"orient":"right","grid":true,"labelPadding":14,"values":[0,4000,8000,12000,16000,20000,24000,28000,32000,36000,40000,44000,48000,52000,56000,60000,64000],"format":"d"}}
},
"layer":[
{"data":{"values":[{"date":"2022-01-09T08:00:00Z","date2":"2023-09-03","price":29961}]},"mark":{"type":"rule","color":"#0b22f5","strokeWidth":2,"strokeDash":[2,4]},"encoding":{"x2":{"field":"date2"}}},
{"data":{"name":"btc"},"mark":{"type":"line","color":"#1f60ff","strokeWidth":4,"strokeJoin":"round"}},
{"data":{"values":[{"date":"2023-07-21","price":29961}]},"mark":{"type":"point","shape":"circle","filled":true,"size":110,"color":"#2962ff","opacity":1}},
{"data":{"values":[{"date":"2022-08-02","date2":"2022-09-13T07:00:00Z","price":4656,"price2":9385},{"date":"2023-04-25","date2":"2023-06-05T21:00:00Z","price":55997,"price2":60727}]},"mark":{"type":"rect","fill":"#ffffff","cornerRadius":6},"encoding":{"x2":{"field":"date2"},"y2":{"field":"price2"}}},
{"data":{"values":[{"date":"2022-08-23","price":8125,"label":"402 bars, 402d"},{"date":"2022-08-23","price":5970,"label":"Vol 904.314K"},{"date":"2023-05-16","price":59413,"label":"129 bars, 129d"},{"date":"2023-05-16","price":57311,"label":"Vol 278.426K"}]},"mark":{"type":"text","fontSize":22,"color":"#131722","align":"center","baseline":"middle"},"encoding":{"text":{"field":"label"}}},
{"data":{"values":[{"date":"2023-01-19T12:00:00Z","price":53740,"label":"Decreased correlation"}]},"mark":{"type":"text","fontSize":38.5,"fontWeight":600,"color":"#7b1fa2","align":"center","baseline":"middle"},"encoding":{"text":{"field":"label"}}},
{"data":{"values":[{"date":"2023-01-17","price":51530,"label":"相关性降低"}]},"mark":{"type":"text","fontSize":40,"fontWeight":"bold","font":"Noto Sans CJK SC","color":"#7b1fa2","align":"center","baseline":"middle"},"encoding":{"text":{"field":"label"}}},
{"data":{"values":[{"date":"2023-04-27","price":13960,"label":"High correlation"}]},"mark":{"type":"text","fontSize":38.5,"fontWeight":600,"color":"#3cab3c","align":"center","baseline":"middle"},"encoding":{"text":{"field":"label"}}},
{"data":{"values":[{"date":"2023-04-24","price":11860,"label":"高度相关性"}]},"mark":{"type":"text","fontSize":40,"fontWeight":"bold","font":"Noto Sans CJK SC","color":"#3cab3c","align":"center","baseline":"middle"},"encoding":{"text":{"field":"label"}}},
{"data":{"values":[{"date":"2022-11-08T12:00:00Z","price":30040,"label":"FTX REPAIR"},{"date":"2022-11-08T12:00:00Z","price":27940,"label":"FTX事件修复"}]},"mark":{"type":"text","fontSize":38,"fontWeight":"bold","font":"Noto Sans CJK SC","color":"#f23645","align":"left","baseline":"middle"},"encoding":{"text":{"field":"label"}}},
{"data":{"values":[{"date":"2021-12-13","date2":"2022-01-25","price":40732,"price2":42492}]},"mark":{"type":"rect","fill":"#f57c00","cornerRadius":3},"encoding":{"x2":{"field":"date2"},"y2":{"field":"price2"}}},
{"data":{"values":[{"date":"2022-01-09T08:00:00Z","price":40732,"price2":42492}]},"mark":{"type":"rule","color":"#ffffff","strokeWidth":2},"encoding":{"y2":{"field":"price2"}}},
{"data":{"values":[{"date":"2021-12-26T16:00:00Z","price":41612,"label":"15826.35"},{"date":"2022-01-17","price":41612,"label":"NDQ"}]},"mark":{"type":"text","fontSize":23,"color":"#ffffff","align":"center","baseline":"middle"},"encoding":{"text":{"field":"label"}}},
{"data":{"values":[{"date":"2023-09-03","date2":"2023-09-25","price":29144,"price2":30878}]},"mark":{"type":"rect","fill":"#2962ff","cornerRadius":3},"encoding":{"x2":{"field":"date2"},"y2":{"field":"price2"}}},
{"data":{"values":[{"date":"2023-09-25T20:00:00Z","date2":"2023-10-22","price":27620,"price2":30878}]},"mark":{"type":"rect","fill":"#2962ff","cornerRadius":3},"encoding":{"x2":{"field":"date2"},"y2":{"field":"price2"}}},
{"data":{"values":[{"date":"2023-09-14","price":29985,"label":"BTCUSD"}]},"mark":{"type":"text","fontSize":23,"color":"#ffffff","align":"center","baseline":"middle"},"encoding":{"text":{"field":"label"}}},
{"data":{"values":[{"date":"2023-09-29T07:00:00Z","price":29985,"label":"29961"},{"date":"2023-09-29T07:00:00Z","price":28462,"label":"18:50:05"}]},"mark":{"type":"text","fontSize":23,"color":"#ffffff","align":"left","baseline":"middle"},"encoding":{"text":{"field":"label"}}},
{"data":{"values":[{"date":"2022-01-13","date2":"2022-02-03T17:00:00Z","price":62408,"price2":64931}]},"mark":{"type":"rect","fill":"#ffffff","stroke":"#f23645","strokeWidth":2,"cornerRadius":6},"encoding":{"x2":{"field":"date2"},"y2":{"field":"price2"}}},
{"data":{"values":[{"date":"2022-02-14","date2":"2022-03-07T14:00:00Z","price":62408,"price2":64931}]},"mark":{"type":"rect","fill":"#ffffff","stroke":"#2962ff","strokeWidth":2,"cornerRadius":6},"encoding":{"x2":{"field":"date2"},"y2":{"field":"price2"}}},
{"data":{"values":[{"date":"2022-01-24","price":63670,"label":"29960"}]},"mark":{"type":"text","fontSize":24,"color":"#f23645","align":"center","baseline":"middle"},"encoding":{"text":{"field":"label"}}},
{"data":{"values":[{"date":"2022-02-08T12:00:00Z","price":63670,"label":"1"}]},"mark":{"type":"text","fontSize":24,"color":"#131722","align":"center","baseline":"middle"},"encoding":{"text":{"field":"label"}}},
{"data":{"values":[{"date":"2022-02-25","price":63670,"label":"29961"}]},"mark":{"type":"text","fontSize":24,"color":"#2962ff","align":"center","baseline":"middle"},"encoding":{"text":{"field":"label"}}},
{"data":{"values":[{"date":"2022-01-17","price":60727}]},"mark":{"type":"point","shape":"circle","filled":true,"size":1200,"color":"#0092b8","opacity":1}},
{"data":{"values":[{"date":"2022-01-17","price":60727,"label":"100"}]},"mark":{"type":"text","fontSize":16,"fontWeight":"bold","color":"#ffffff","align":"center","baseline":"middle"},"encoding":{"text":{"field":"label"}}},
{"data":{"values":[{"date":"2022-01-23","price":60727,"label":"NDQ, TVC"}]},"mark":{"type":"text","fontSize":25,"color":"#b2b5be","align":"left","baseline":"middle"},"encoding":{"text":{"field":"label"}}},
{"data":{"values":[{"date":"2022-02-20","price":60727,"label":"15826.35  −15.00 (−0.09%)"}]},"mark":{"type":"text","fontSize":25,"color":"#f57c00","align":"left","baseline":"middle"},"encoding":{"text":{"field":"label"}}},
{"data":{"values":[{"date":"2022-01-20","price":58100}]},"mark":{"type":"point","shape":"M-1,0.5L0,-0.5L1,0.5","size":256,"filled":false,"color":"#131722","strokeWidth":2.5,"opacity":1}},
{"data":{"values":[{"date":"2021-12-26","price":-5384}]},"mark":{"type":"point","shape":"circle","filled":true,"size":1369,"color":"#dfe1e8","opacity":1}},
{"data":{"values":[{"date":"2021-12-26","price":-5384,"label":"Z"}]},"mark":{"type":"text","fontSize":20,"color":"#131722","align":"center","baseline":"middle"},"encoding":{"text":{"field":"label"}}},
{"data":{"values":[{"date":"2023-10-10","price":-5384,"label":"A"}]},"mark":{"type":"text","fontSize":20,"color":"#131722","align":"center","baseline":"middle"},"encoding":{"text":{"field":"label"}}},
{"data":{"values":[{"date":"2022-01-20","price":-1697}]},"mark":{"type":"point","shape":"M-31,-16H-4V16H-16V-4H-31ZM-3,-10a5,5 0 1,0 10,0a5,5 0 1,0 -10,0ZM18,-16H31L16,16H3Z","size":4,"filled":true,"fill":"#131722","stroke":"#ffffff","strokeWidth":3,"opacity":1}},
{"data":{"values":[{"date":"2022-01-30","price":-1697,"label":"TradingView"}]},"mark":{"type":"text","fontSize":39,"fontWeight":"bold","font":"Inter","align":"left","baseline":"middle","stroke":"#ffffff","strokeWidth":5,"color":"#ffffff"},"encoding":{"text":{"field":"label"}}},
{"data":{"values":[{"date":"2022-01-30","price":-1697,"label":"TradingView"}]},"mark":{"type":"text","fontSize":39,"fontWeight":"bold","font":"Inter","align":"left","baseline":"middle","color":"#131722"},"encoding":{"text":{"field":"label"}}}
]
}
]
}
